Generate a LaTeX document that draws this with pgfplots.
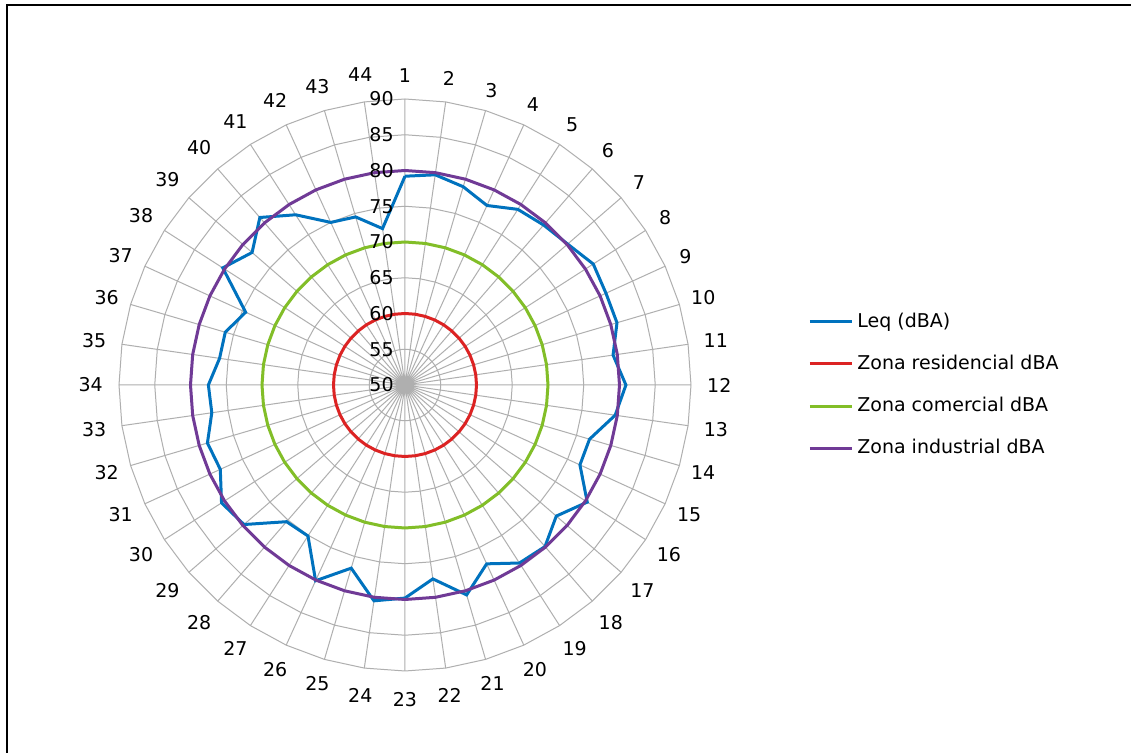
\documentclass[border=0pt]{standalone}
\usepackage{fontspec}
\setmainfont{DejaVu Sans}
\usepackage{pgfplots}
\pgfplotsset{compat=1.18}
\usepackage{pgfplotstable}
\usepgfplotslibrary{polar}

\definecolor{cleq}{RGB}{0,114,190}
\definecolor{cres}{RGB}{220,35,35}
\definecolor{ccom}{RGB}{130,190,40}
\definecolor{cind}{RGB}{112,58,150}
\definecolor{cgrid}{RGB}{175,175,175}

\newcommand\fs{\fontsize{9.5}{11.4}\selectfont}

% k = point number, a = angle (deg), leq and limits in dBA
\pgfplotstableread{
k a leq res com ind
1 90 79.2 60 70 80
2 81.818 79.7 60 70 80
3 73.636 78.9 60 70 80
4 65.455 77.6 60 70 80
5 57.273 79.2 60 70 80
6 49.091 79.6 60 70 80
7 40.909 80.1 60 70 80
8 32.727 81.3 60 70 80
9 24.545 80.9 60 70 80
10 16.364 80.9 60 70 80
11 8.182 79.4 60 70 80
12 0 80.9 60 70 80
13 351.818 79.7 60 70 80
14 343.636 76.9 60 70 80
15 335.455 76.9 60 70 80
16 327.273 80.3 60 70 80
17 319.091 78.0 60 70 80
18 310.909 79.9 60 70 80
19 302.727 79.6 60 70 80
20 294.545 77.5 60 70 80
21 286.364 80.6 60 70 80
22 278.182 77.4 60 70 80
23 270 79.8 60 70 80
24 261.818 80.5 60 70 80
25 253.636 76.7 60 70 80
26 245.455 80.1 60 70 80
27 237.273 75.1 60 70 80
28 229.091 75.3 60 70 80
29 220.909 79.8 60 70 80
30 212.727 80.5 60 70 80
31 204.545 78.4 60 70 80
32 196.364 78.8 60 70 80
33 188.182 77.3 60 70 80
34 180 77.5 60 70 80
35 171.818 76.2 60 70 80
36 163.636 76.2 60 70 80
37 155.455 74.5 60 70 80
38 147.273 80.3 60 70 80
39 139.091 78.3 60 70 80
40 130.909 81.0 60 70 80
41 122.727 78.3 60 70 80
42 114.545 75.0 60 70 80
43 106.364 74.5 60 70 80
44 98.182 72.1 60 70 80
45 90 79.2 60 70 80
}\datatab

\begin{document}
\begin{tikzpicture}
\useasboundingbox (0,0) rectangle (565.5pt,376.5pt);
\fill[white] (0,0) rectangle (565.5pt,376.5pt);
\draw[line width=1pt] (3.5pt,0) -- (3.5pt,374pt) -- (565.5pt,374pt);
\begin{polaraxis}[
  at={(202.5pt,184pt)}, anchor=center,
  width=286pt, height=286pt, scale only axis,
  clip=false,
  xmin=0, xmax=360, ymin=0, ymax=40,
  xtick={0,8.182,16.364,24.545,32.727,40.909,49.091,57.273,65.455,73.636,81.818,90,98.182,106.364,114.545,122.727,130.909,139.091,147.273,155.455,163.636,171.818,180,188.182,196.364,204.545,212.727,220.909,229.091,237.273,245.455,253.636,261.818,270,278.182,286.364,294.545,302.727,310.909,319.091,327.273,335.455,343.636,351.818},
  xticklabels={12,11,10,9,8,7,6,5,4,3,2,1,44,43,42,41,40,39,38,37,36,35,34,33,32,31,30,29,28,27,26,25,24,23,22,21,20,19,18,17,16,15,14,13},
  ytick=\empty,
  xmajorgrids,
  major grid style={cgrid, line width=0.5pt},
  axis line style={draw=none},
  major tick length=0pt,
  xticklabel style={font=\fs, circle, inner sep=5pt},
  legend style={at={(1.2045,0.5)}, anchor=west, draw=none, fill=none, font=\fs, inner sep=0pt, row sep=8.3pt},
  legend cell align=left,
  legend image code/.code={\draw[#1] (0pt,0pt) -- (21pt,0pt);},
]
\pgfplotsinvokeforeach{5,10,...,40}{
  \addplot[cgrid, line width=0.5pt, forget plot] table[x=a, y expr=#1] {\datatab};
}
\addplot[cleq, line width=1.5pt] table[x=a, y expr=\thisrow{leq}-50] {\datatab};
\addlegendentry{Leq (dBA)}
\addplot[cres, line width=1.5pt] table[x=a, y expr=\thisrow{res}-50] {\datatab};
\addlegendentry{Zona residencial dBA}
\addplot[ccom, line width=1.5pt] table[x=a, y expr=\thisrow{com}-50] {\datatab};
\addlegendentry{Zona comercial dBA}
\addplot[cind, line width=1.5pt] table[x=a, y expr=\thisrow{ind}-50] {\datatab};
\addlegendentry{Zona industrial dBA}
\node[font=\fs, anchor=east, inner sep=0pt, xshift=-5.5pt] at (axis cs:90,0) {50};
\node[font=\fs, anchor=east, inner sep=0pt, xshift=-5.5pt] at (axis cs:90,5) {55};
\node[font=\fs, anchor=east, inner sep=0pt, xshift=-5.5pt] at (axis cs:90,10) {60};
\node[font=\fs, anchor=east, inner sep=0pt, xshift=-5.5pt] at (axis cs:90,15) {65};
\node[font=\fs, anchor=east, inner sep=0pt, xshift=-5.5pt] at (axis cs:90,20) {70};
\node[font=\fs, anchor=east, inner sep=0pt, xshift=-5.5pt] at (axis cs:90,25) {75};
\node[font=\fs, anchor=east, inner sep=0pt, xshift=-5.5pt] at (axis cs:90,30) {80};
\node[font=\fs, anchor=east, inner sep=0pt, xshift=-5.5pt] at (axis cs:90,35) {85};
\node[font=\fs, anchor=east, inner sep=0pt, xshift=-5.5pt] at (axis cs:90,40) {90};
\end{polaraxis}
\end{tikzpicture}
\end{document}
